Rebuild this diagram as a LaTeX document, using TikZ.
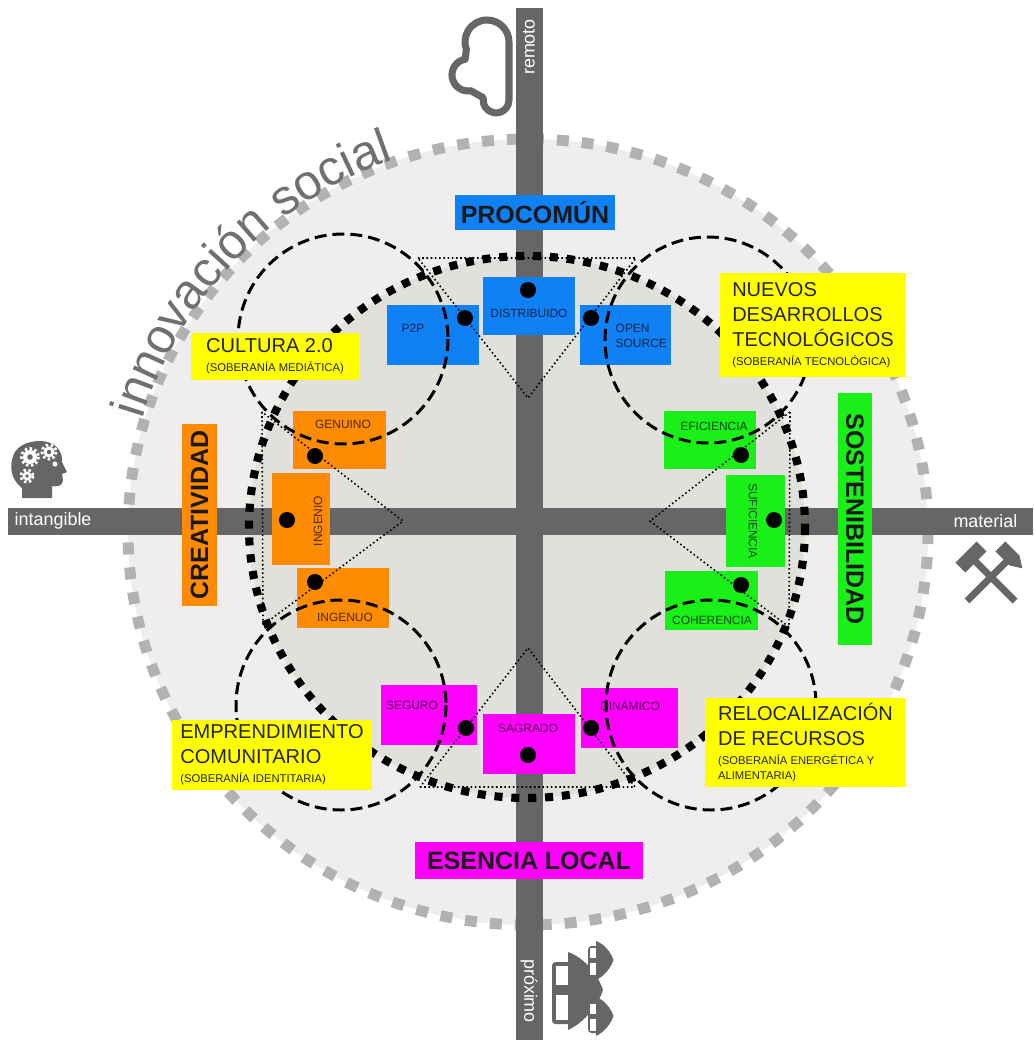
\documentclass[tikz,border=0pt]{standalone}
\usepackage{fontspec}
\setmainfont{Liberation Sans}
\usetikzlibrary{decorations.text}
\newlength{\pix}\setlength{\pix}{0.01cm}

\definecolor{axisgray}{RGB}{102,102,102}
\definecolor{diskgray}{RGB}{239,238,236}
\definecolor{innergray}{RGB}{226,224,221}
\definecolor{ringgray}{RGB}{178,178,178}
\definecolor{innogray}{RGB}{112,112,112}
\definecolor{procblue}{RGB}{16,128,245}
\definecolor{creaorange}{RGB}{255,140,0}
\definecolor{sostgreen}{RGB}{24,240,24}
\definecolor{locmagenta}{RGB}{255,0,255}
\definecolor{soberyellow}{RGB}{255,255,0}

\newcommand{\headfont}{\fontsize{7.1}{8.5}\selectfont\bfseries}
\newcommand{\boxfont}{\fontsize{5.7}{7.1}\selectfont}
\newcommand{\subfont}{\fontsize{3.2}{4.3}\selectfont}
\newcommand{\tagfont}{\fontsize{3.4}{4.3}\selectfont}
\newcommand{\axisfont}{\fontsize{5.1}{6}\selectfont}
\newcommand{\innofont}{\fontsize{14}{16}\selectfont}

\tikzstyle{bar}=[fill=axisgray]
\tikzstyle{tagbox}=[rectangle, inner sep=0pt, draw=none]
\tikzstyle{tag}=[font=\tagfont, inner sep=0pt]
\tikzstyle{dot}=[circle, fill=black, minimum size=16*\pix, inner sep=0pt]
\tikzstyle{tri}=[draw, line width=0.45pt, dash pattern=on 0.45pt off 0.75pt]
\tikzstyle{quad}=[draw, line width=0.85pt, dash pattern=on 3.4pt off 1.7pt]
\tikzstyle{heading}=[font=\headfont, text=black!90, inner sep=0pt]
\tikzstyle{sober}=[fill=soberyellow, font=\boxfont, text=black!85, align=left, inner sep=0pt]
\tikzstyle{axislabel}=[font=\axisfont, text=white, inner sep=0pt]

\begin{document}
\begin{tikzpicture}[x=0.01cm, y=-0.01cm]

    \useasboundingbox[fill=white] (0,0) rectangle (1033,1040);

    % disk, ring and axes
    \fill[diskgray] (528,532) ellipse[x radius=400, y radius=393];
    \draw[ringgray, line width=3.1pt, dash pattern=on 3.4pt off 3.7pt] (528,532) ellipse[x radius=400, y radius=393];
    \fill[innergray] (527,527) ellipse[x radius=278, y radius=271];

    \fill[bar] (8,508) rectangle (1033,535);
    \fill[bar] (516,8) rectangle (543,1040);

    \node[axislabel, anchor=west] (intangible) at (14,521) {intangible};
    \node[axislabel, anchor=east] (material) at (1018,521) {material};
    \node[axislabel, rotate=90] (remoto) at (529,47) {remoto};
    \node[axislabel, rotate=-90] (proximo) at (529,991) {próximo};

    % headings
    \node[heading, fill=procblue, minimum width=160*\pix, minimum height=35*\pix] (procomun) at (535,212.5) {PROCOMÚN};
    \node[heading, fill=locmagenta, minimum width=228*\pix, minimum height=37*\pix] (esencia) at (529,860.5) {ESENCIA LOCAL};
    \node[heading, fill=creaorange, rotate=90, minimum width=182*\pix, minimum height=35*\pix] (creatividad) at (199.5,515) {CREATIVIDAD};
    \node[heading, fill=sostgreen, rotate=-90, minimum width=252*\pix, minimum height=34*\pix] (sostenibilidad) at (855,519) {SOSTENIBILIDAD};

    % small boxes
    \foreach \x/\y/\w/\h/\name in {529/306/92/58/distribuido, 433/335/92/60/ptp, 625.5/335/91/60/opensource}
        \node[tagbox, fill=procblue, minimum width=\w*\pix, minimum height=\h*\pix] (\name) at (\x,\y) {};
    \foreach \x/\y/\w/\h/\name in {339.5/440/93/58/genuino, 301/519/58/92/ingenio, 343/598/92/60/ingenuo}
        \node[tagbox, fill=creaorange, minimum width=\w*\pix, minimum height=\h*\pix] (\name) at (\x,\y) {};
    \foreach \x/\y/\w/\h/\name in {710/440/92/58/eficiencia, 755.5/521/59/92/suficiencia, 711.5/600.5/93/59/coherencia}
        \node[tagbox, fill=sostgreen, minimum width=\w*\pix, minimum height=\h*\pix] (\name) at (\x,\y) {};
    \foreach \x/\y/\w/\h/\name in {429/715/96/60/seguro, 529/744/92/60/sagrado, 629.5/718/97/60/dinamico}
        \node[tagbox, fill=locmagenta, minimum width=\w*\pix, minimum height=\h*\pix] (\name) at (\x,\y) {};

    \foreach \x/\y/\name/\txt in {529/313/distribuido-t/DISTRIBUIDO, 413/328/ptp-t/P2P}
        \node[tag, text=procblue!30!black] (\name) at (\x,\y) {\txt};
    \node[tag, text=procblue!30!black, align=left, anchor=west] (opensource-t) at (615,335.5) {OPEN\\SOURCE};
    \foreach \x/\y/\name/\txt in {343/424/genuino-t/GENUINO, 345/617/ingenuo-t/INGENUO}
        \node[tag, text=creaorange!30!black] (\name) at (\x,\y) {\txt};
    \node[tag, text=creaorange!30!black, rotate=90] (ingenio-t) at (318,521) {INGENIO};
    \foreach \x/\y/\name/\txt in {714/426/eficiencia-t/EFICIENCIA, 712/620/coherencia-t/COHERENCIA}
        \node[tag, text=sostgreen!30!black] (\name) at (\x,\y) {\txt};
    \node[tag, text=sostgreen!30!black, rotate=-90] (suficiencia-t) at (753,521) {SUFICIENCIA};
    \foreach \x/\y/\name/\txt in {412/705/seguro-t/SEGURO, 528/728/sagrado-t/SAGRADO, 630/705/dinamico-t/DINÁMICO}
        \node[tag, text=locmagenta!30!black] (\name) at (\x,\y) {\txt};

    % quadrant circles
    \foreach \x/\y/\r in {343/339/105, 708/340/103, 341/705/105, 711/705/105}
        \draw[quad] (\x,\y) circle[radius=\r];

    % triangles
    \foreach \x/\y/\name in {418/258/top-l, 636/258/top-r, 528/398/top-a,
                             262/412/left-t, 263/625/left-b, 403/521/left-a,
                             790/412/right-t, 789/627/right-b, 650/521/right-a,
                             420/787/bot-l, 635/787/bot-r, 528/648/bot-a}
        \coordinate (\name) at (\x,\y);
    \draw[tri] (top-l) -- (top-r) -- (top-a) -- cycle;
    \draw[tri] (left-t) -- (left-b) -- (left-a) -- cycle;
    \draw[tri] (right-t) -- (right-b) -- (right-a) -- cycle;
    \draw[tri] (bot-l) -- (bot-r) -- (bot-a) -- cycle;

    \draw[line width=2.3pt, dash pattern=on 2.3pt off 2.5pt] (527,527) ellipse[x radius=278, y radius=271];

    % dots
    \foreach \x/\y/\name in {465/318/ptp-d, 528/290/distribuido-d, 591/318/opensource-d,
                             315/456/genuino-d, 287/520/ingenio-d, 315/582/ingenuo-d,
                             741/455/eficiencia-d, 774/520/suficiencia-d, 741/585/coherencia-d,
                             466/728/seguro-d, 528/755/sagrado-d, 591/728/dinamico-d}
        \node[dot] (\name) at (\x,\y) {};

    % sovereignty boxes
    \node[sober, minimum width=168*\pix, minimum height=47*\pix] (cultura) at (275,356.5)
        {CULTURA 2.0\\[-1.7pt]{\subfont (SOBERANÍA MEDIÁTICA)}};
    \node[sober, minimum width=186*\pix, minimum height=104*\pix] (nuevos) at (813,325)
        {NUEVOS\\DESARROLLOS\\TECNOLÓGICOS\\[-1.7pt]{\subfont (SOBERANÍA TECNOLÓGICA)}};
    \node[sober, minimum width=200*\pix, minimum height=70*\pix] (emprendimiento) at (272,755)
        {EMPRENDIMIENTO\\COMUNITARIO\\[-1.7pt]{\subfont (SOBERANÍA IDENTITARIA)}};
    \node[sober, minimum width=201*\pix, minimum height=89*\pix] (relocalizacion) at (805.5,742.5)
        {RELOCALIZACIÓN\\DE RECURSOS\\[-1.7pt]{\subfont (SOBERANÍA ENERGÉTICA Y}\\[-2.8pt]{\subfont ALIMENTARIA)}};

    % curved title on the ring
    \path[decorate, decoration={text along path, text align=center,
          text={|\innofont\color{innogray}|innovación social}}]
        (528,532) ++(190:402 and 395) arc[start angle=190, end angle=257, x radius=402, y radius=395];

    % icons
    \draw[axisgray, line width=2pt, fill=white, line join=round]
        (509,42) arc[start angle=0, end angle=-200, radius=22] -- (465.2,59.2)
        arc[start angle=-100, end angle=-280, radius=16] -- (483.2,97.7)
        arc[start angle=190, end angle=0, radius=13] -- cycle;

    \fill[axisgray] (22,498) -- (22,488) .. controls (12,480) and (10,470) .. (12,460)
        .. controls (14,446) and (28,441) .. (40,441) .. controls (55,441) and (63,451) .. (62,462)
        -- (67,472) -- (62,474) -- (63,480) .. controls (63,486) and (57,487) .. (52,486) -- (52,498) -- cycle;
    \foreach \x/\y/\r in {30/457/7, 49/452/5.5, 27/476/4.5} {
        \fill[white] (\x,\y) circle[radius=\r];
        \draw[white, line width=0.8pt, dash pattern=on 0.7pt off 0.7pt] (\x,\y) circle[radius=\r+1.5];
        \fill[axisgray] (\x,\y) circle[radius=\r*0.4];
    }
    \fill[white] (55,464) circle[radius=2.5];

    \draw[axisgray, line width=2pt] (973,559) -- (1015,601);
    \draw[axisgray, line width=2pt] (1009,559) -- (967,601);
    \fill[axisgray, rotate around={45:(971,557)}] (956,550) rectangle (986,564);
    \fill[axisgray, rotate around={-45:(1011,557)}] (996,550) -- (1016,550) -- (1027,557) -- (1016,564) -- (996,564) -- cycle;

    \foreach \cx/\cy/\s in {552/990/1, 588/960/0.5, 588/1016/0.5} {
        \begin{scope}[shift={(\cx,\cy)}, scale=\s]
            \fill[axisgray, rounded corners=1pt] (0,-28) rectangle (24,34);
            \fill[white] (4,-24) rectangle (18,-5);
            \fill[white] (4,5) rectangle (18,30);
            \fill[axisgray] (16,-38) .. controls (33,-32) and (46,-15) .. (51,0)
                .. controls (46,15) and (33,32) .. (16,40) -- cycle;
        \end{scope}
    }

\end{tikzpicture}
\end{document}
